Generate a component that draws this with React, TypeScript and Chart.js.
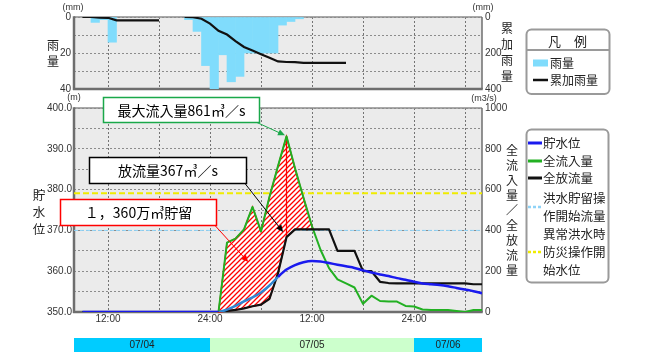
import React, { useEffect, useRef } from 'react';
import { Chart, registerables } from 'chart.js';

Chart.register(...registerables);

const W = 661;
const H = 360;
const FONT_JP = '"Noto Sans CJK JP", "Noto Sans", sans-serif';
const FONT_NUM = '"Liberation Sans", "DejaVu Sans", sans-serif';

// ---------------- data ----------------
// hours counted from 07/04 00:00
const axisStartHour = 8;
const axisEndHour = 56;
const gridHours = [12, 18, 24, 30, 36, 42, 48, 54];
const tickLabels: Record<number, string> = { 12: '12:00', 24: '24:00', 36: '12:00', 48: '24:00' };

const dateLabels = ['07/04', '07/05', '07/06'];
const dateFrom = [8, 24, 48];
const dateTo = [24, 48, 56];

// hourly rainfall (mm), bar covers [hour, hour+1)
const rainHours = [10, 11, 12, 21, 22, 23, 24, 25, 26, 27, 28, 29, 30, 31, 32, 33, 34];
const rainValues = [3, 1.5, 14, 1.5, 8, 27, 40, 21, 36, 33, 20, 20, 20, 20, 4.5, 2.5, 1];

// cumulative rainfall (mm)
const cumHours = [9, 10, 11, 12, 13, 14, 15, 16, 17, 18,
  21, 22, 23, 24, 25, 26, 27, 28, 29, 30, 31, 32, 33, 34, 35, 36, 37, 38, 39, 40];
const cumValues = [0, 0, 3, 4.5, 18.5, 18.5, 18.5, 18.5, 18.5, 18.5,
  0, 1.5, 9.5, 36.5, 76.5, 97.5, 133.5, 166.5, 186.5, 206.5, 226.5, 247, 250, 251, 255, 255, 255, 255, 255, 255];

const hours = [9, 10, 11, 12, 13, 14, 15, 16, 17, 18, 19, 20, 21, 22, 23, 24,
  25, 26, 27, 28, 29, 30, 31, 32, 33, 34, 35, 36, 37, 38, 39, 40,
  41, 42, 43, 44, 45, 46, 47, 48, 49, 50, 51, 52, 53, 54, 55, 56];

// reservoir water level (m)
const storageLevel = [350, 350, 350, 350, 350, 350, 350, 350, 350, 350, 350, 350, 350, 350, 350, 350,
  350, 350.6, 351.5, 352.6, 353.6, 354.8, 356.5, 358.6, 360.4, 361.5, 362.2, 362.5, 362.4, 362.0, 361.6, 361.2,
  360.8, 360.2, 359.7, 359.2, 358.8, 358.3, 357.9, 357.4, 357.0, 356.8, 356.6, 356.3, 355.9, 355.5, 355.1, 354.6];

// total inflow (m3/s)
const inflow = [0, 0, 0, 0, 0, 0, 0, 0, 0, 0, 0, 0, 0, 0, 0, 0,
  0, 340, 360, 405, 515, 395, 565, 715, 861, 705, 560, 420, 305, 215, 160, 140,
  120, 40, 80, 54, 52, 51, 30, 27, 12, 10, 10, 10, 5, 0, 10, 10];

// total outflow (m3/s)
const outflow = [0, 0, 0, 0, 0, 0, 0, 0, 0, 0, 0, 0, 0, 0, 0, 0,
  0, 5, 10, 18, 28, 36, 65, 190, 367, 405, 405, 405, 405, 405, 300, 300,
  300, 200, 200, 148, 142, 140, 140, 140, 140, 140, 140, 140, 140, 140, 136, 136];

const floodStartFlow = 400;   // 洪水貯留操作開始流量
const emergencyLevel = 379.1; // 異常洪水時防災操作開始水位

const peakInflowLabel = '最大流入量861㎥／s';
const outflowLabel = '放流量367㎥／s';
const storageLabel = '１，360万㎥貯留';

// ---------------- styles ----------------
const C_RAIN = '#80dcfc';
const C_BLUE = '#1a1aee';
const C_BLUE_IN = '#2f86d2';
const C_GREEN = '#22b022';
const C_BLACK = '#111111';
const C_LBLUE = '#8fd3f7';
const C_YELLOW = '#f0ec00';
const C_PLOT = '#ebebeb';
const dateColors = ['#00ccff', '#ccffcc', '#00ccff'];

Chart.defaults.font.family = FONT_NUM;
Chart.defaults.font.size = 10;
Chart.defaults.color = '#333';

function line(ctx: any, x1: number, y1: number, x2: number, y2: number) {
  ctx.beginPath();
  ctx.moveTo(x1, y1);
  ctx.lineTo(x2, y2);
  ctx.stroke();
}

function roundRectPath(ctx: any, x: number, y: number, w: number, h: number, r: number) {
  ctx.beginPath();
  ctx.moveTo(x + r, y);
  ctx.lineTo(x + w - r, y);
  ctx.arcTo(x + w, y, x + w, y + r, r);
  ctx.lineTo(x + w, y + h - r);
  ctx.arcTo(x + w, y + h, x + w - r, y + h, r);
  ctx.lineTo(x + r, y + h);
  ctx.arcTo(x, y + h, x, y + h - r, r);
  ctx.lineTo(x, y + r);
  ctx.arcTo(x, y, x + r, y, r);
  ctx.closePath();
}

function vertText(ctx: any, text: string, x: number, y0: number, step: number, font: string) {
  ctx.font = font;
  ctx.textAlign = 'center';
  ctx.textBaseline = 'middle';
  Array.from(text).forEach((ch, i) => ctx.fillText(ch, x, y0 + i * step));
}

function arrow(ctx: any, x1: number, y1: number, x2: number, y2: number, color: string) {
  const head = 7;
  const a = Math.atan2(y2 - y1, x2 - x1);
  ctx.strokeStyle = color;
  ctx.fillStyle = color;
  ctx.lineWidth = 1;
  line(ctx, x1, y1, x2 - Math.cos(a) * head * 0.7, y2 - Math.sin(a) * head * 0.7);
  const bx = x2 - head * Math.cos(a);
  const by = y2 - head * Math.sin(a);
  const ox = head * 0.45 * Math.sin(a);
  const oy = head * 0.45 * Math.cos(a);
  ctx.beginPath();
  ctx.moveTo(x2, y2);
  ctx.lineTo(bx + ox, by - oy);
  ctx.lineTo(bx - ox, by + oy);
  ctx.closePath();
  ctx.fill();
}

function textBox(ctx: any, x: number, y: number, w: number, h: number, border: string, text: string) {
  ctx.fillStyle = '#fff';
  ctx.fillRect(x, y, w, h);
  ctx.strokeStyle = border;
  ctx.lineWidth = 1.5;
  ctx.strokeRect(x, y, w, h);
  ctx.fillStyle = '#000';
  ctx.font = `14px ${FONT_JP}`;
  ctx.textAlign = 'center';
  ctx.textBaseline = 'middle';
  ctx.fillText(text, x + w / 2, y + h / 2 + 0.5);
}

const plotBgPlugin = {
  id: 'plotBg',
  beforeDraw(chart: any) {
    const { ctx, chartArea: a } = chart;
    ctx.save();
    ctx.fillStyle = C_PLOT;
    ctx.fillRect(a.left, a.top, a.right - a.left, a.bottom - a.top);
    ctx.restore();
  },
};

const framePlugin = {
  id: 'frame',
  beforeDatasetsDraw(chart: any) {
    const { ctx, chartArea: a } = chart;
    ctx.save();
    ctx.strokeStyle = '#8c8c8c';
    ctx.lineWidth = 1.5;
    line(ctx, a.left, a.top, a.right, a.top);
    ctx.strokeStyle = '#6e6e6e';
    line(ctx, a.right, a.top, a.right, a.bottom);
    ctx.lineWidth = 2.5;
    line(ctx, a.left, a.top - 0.75, a.left, a.bottom + 1);
    line(ctx, a.left - 1, a.bottom, a.right + 0.75, a.bottom);
    ctx.restore();
  },
};

function makeHatch(ctx: any) {
  const c = document.createElement('canvas');
  c.width = 5;
  c.height = 5;
  const g = c.getContext('2d') as CanvasRenderingContext2D;
  g.fillStyle = '#ffffff';
  g.fillRect(0, 0, 5, 5);
  g.strokeStyle = '#ff0000';
  g.lineWidth = 1.3;
  g.beginPath();
  g.moveTo(-1, 6); g.lineTo(6, -1);
  g.moveTo(-1, 1); g.lineTo(1, -1);
  g.moveTo(4, 6); g.lineTo(6, 4);
  g.stroke();
  return ctx.createPattern(c, 'repeat');
}

// hatched storage area between inflow and outflow
const hatchPlugin = {
  id: 'hatch',
  afterDatasetDraw(chart: any, args: any) {
    if (args.index !== 3) return;
    const { ctx } = chart;
    const xs = chart.scales.x;
    const yQ = chart.scales.yQ;
    const first = inflow.findIndex((v, i) => v > outflow[i]);
    const s = Math.max(0, first - 1);
    const peak = inflow.indexOf(Math.max(...inflow));
    let e = hours.length - 1;
    for (let i = peak; i < hours.length; i++) {
      if (inflow[i] < outflow[i]) { e = i; break; }
    }
    const d0 = inflow[e - 1] - outflow[e - 1];
    const d1 = inflow[e] - outflow[e];
    const t = d0 / (d0 - d1);
    const xc = hours[e - 1] + t * (hours[e] - hours[e - 1]);
    const yc = outflow[e - 1] + t * (outflow[e] - outflow[e - 1]);
    ctx.save();
    ctx.beginPath();
    ctx.moveTo(xs.getPixelForValue(hours[s]), yQ.getPixelForValue(inflow[s]));
    for (let i = s + 1; i < e; i++) ctx.lineTo(xs.getPixelForValue(hours[i]), yQ.getPixelForValue(inflow[i]));
    ctx.lineTo(xs.getPixelForValue(xc), yQ.getPixelForValue(yc));
    for (let i = e - 1; i >= s; i--) ctx.lineTo(xs.getPixelForValue(hours[i]), yQ.getPixelForValue(outflow[i]));
    ctx.closePath();
    ctx.fillStyle = makeHatch(ctx);
    ctx.fill();
    ctx.strokeStyle = '#ff0000';
    ctx.lineWidth = 1.3;
    ctx.stroke();
    const px = xs.getPixelForValue(hours[peak]);
    line(ctx, px, yQ.getPixelForValue(inflow[peak]), px, yQ.getPixelForValue(outflow[peak]));
    ctx.restore();
  },
};

const mainDecorPlugin = {
  id: 'mainDecor',
  afterDraw(chart: any) {
    const { ctx } = chart;
    const xs = chart.scales.x;
    const yQ = chart.scales.yQ;
    ctx.save();
    // units
    ctx.fillStyle = '#333';
    ctx.font = `9px ${FONT_NUM}`;
    ctx.textAlign = 'center';
    ctx.textBaseline = 'middle';
    ctx.fillText('(m)', 74, 98);
    ctx.fillText('(m3/s)', 484, 99);
    // axis titles
    ctx.fillStyle = '#222';
    vertText(ctx, '貯水位', 39, 195, 17, `12.5px ${FONT_JP}`);
    vertText(ctx, '全流入量／全放流量', 512, 150, 15, `12px ${FONT_JP}`);

    // legend
    roundRectPath(ctx, 526.5, 129.5, 82, 153, 5);
    ctx.fillStyle = '#fff';
    ctx.fill();
    ctx.strokeStyle = '#9a9a9a';
    ctx.lineWidth = 2;
    ctx.stroke();
    const lx0 = 528, lx1 = 542, tx = 543;
    const mark = (y: number, color: string, dash: number[], w: number) => {
      ctx.strokeStyle = color;
      ctx.lineWidth = w;
      ctx.setLineDash(dash);
      line(ctx, lx0, y, lx1, y);
      ctx.setLineDash([]);
    };
    mark(143, C_BLUE, [], 3);
    mark(161, C_GREEN, [], 3);
    mark(178, C_BLACK, [], 3);
    mark(207, C_LBLUE, [3, 2], 2.5);
    mark(252, C_YELLOW, [3, 2], 2.5);
    ctx.fillStyle = '#222';
    ctx.font = `12.5px ${FONT_JP}`;
    ctx.textAlign = 'left';
    ctx.textBaseline = 'middle';
    ctx.fillText('貯水位', tx, 143);
    ctx.fillText('全流入量', tx, 161);
    ctx.fillText('全放流量', tx, 178);
    ctx.fillText('洪水貯留操', tx, 198);
    ctx.fillText('作開始流量', tx, 216.5);
    ctx.fillText('異常洪水時', tx, 234);
    ctx.fillText('防災操作開', tx, 252);
    ctx.fillText('始水位', tx, 270);

    // date bar
    ctx.font = `10px ${FONT_NUM}`;
    ctx.textAlign = 'center';
    dateLabels.forEach((lab, i) => {
      const x0 = xs.getPixelForValue(dateFrom[i]);
      const x1 = xs.getPixelForValue(dateTo[i]);
      ctx.fillStyle = dateColors[i];
      ctx.fillRect(x0, 338, x1 - x0, 14);
      ctx.fillStyle = '#222';
      ctx.fillText(lab, (x0 + x1) / 2, 345.5);
    });

    // annotations
    const peak = inflow.indexOf(Math.max(...inflow));
    const px = xs.getPixelForValue(hours[peak]);
    const py = yQ.getPixelForValue(inflow[peak]);
    textBox(ctx, 103.5, 97.5, 156, 25, '#1aa84a', peakInflowLabel);
    arrow(ctx, 257, 122.5, px - 1.5, py - 1, '#1aa84a');
    textBox(ctx, 89.5, 157.5, 157, 26, '#000', outflowLabel);
    arrow(ctx, 245, 183.5, xs.getPixelForValue(32.6), yQ.getPixelForValue(392), '#000');
    textBox(ctx, 60.5, 199.5, 156, 26, '#ff0000', storageLabel);
    arrow(ctx, 215, 225.5, xs.getPixelForValue(28.5), yQ.getPixelForValue(245), '#ff0000');
    ctx.restore();
  },
};

const topDecorPlugin = {
  id: 'topDecor',
  afterDraw(chart: any) {
    const { ctx } = chart;
    ctx.save();
    ctx.fillStyle = '#333';
    ctx.font = `9px ${FONT_NUM}`;
    ctx.textAlign = 'center';
    ctx.textBaseline = 'middle';
    ctx.fillText('(mm)', 73, 8);
    ctx.fillText('(mm)', 483, 8);
    ctx.fillStyle = '#222';
    vertText(ctx, '雨量', 53, 45, 16, `12px ${FONT_JP}`);
    vertText(ctx, '累加雨量', 507, 28, 16.3, `12px ${FONT_JP}`);

    roundRectPath(ctx, 526.5, 29.5, 83, 64.5, 5);
    ctx.fillStyle = '#fff';
    ctx.fill();
    ctx.strokeStyle = '#9a9a9a';
    ctx.lineWidth = 2;
    ctx.stroke();
    line(ctx, 527, 50, 609, 50);
    ctx.fillStyle = '#222';
    ctx.font = `13px ${FONT_JP}`;
    ctx.textAlign = 'center';
    ctx.fillText('凡　例', 567.5, 41);
    ctx.fillStyle = C_RAIN;
    ctx.fillRect(533, 59.5, 15, 7);
    ctx.strokeStyle = C_BLACK;
    ctx.lineWidth = 2.5;
    line(ctx, 533, 80, 548, 80);
    ctx.fillStyle = '#222';
    ctx.font = `12px ${FONT_JP}`;
    ctx.textAlign = 'left';
    ctx.fillText('雨量', 550, 63);
    ctx.fillText('累加雨量', 550, 80);
    ctx.restore();
  },
};

function insideHatch(c: any) {
  const chart = c.chart;
  if (!chart || !chart.scales) return false;
  const yL = chart.scales.yL;
  const yQ = chart.scales.yQ;
  const inside = (i: number) => {
    const b = yL.getPixelForValue(storageLevel[i]);
    return b < yQ.getPixelForValue(outflow[i]) - 0.1 && b > yQ.getPixelForValue(inflow[i]);
  };
  return inside(c.p0DataIndex) || inside(c.p1DataIndex);
}

function gridTicks(scale: any) {
  scale.ticks = gridHours.map((v) => ({ value: v }));
}

function mainConfig(): any {
  const pts = (ys: number[]) => hours.map((h, i) => ({ x: h, y: ys[i] }));
  return {
    type: 'line',
    data: {
      datasets: [
        {
          label: '貯水位', data: pts(storageLevel), yAxisID: 'yL', borderColor: C_BLUE, borderWidth: 2.5,
          pointRadius: 0, cubicInterpolationMode: 'monotone', order: 0, borderJoinStyle: 'round',
          segment: { borderColor: (c: any) => (insideHatch(c) ? C_BLUE_IN : undefined) },
        },
        { label: '全放流量', data: pts(outflow), yAxisID: 'yQ', borderColor: C_BLACK, borderWidth: 2.2, pointRadius: 0, order: 1, borderJoinStyle: 'round' },
        { label: '全流入量', data: pts(inflow), yAxisID: 'yQ', borderColor: C_GREEN, borderWidth: 2, pointRadius: 0, order: 2, borderJoinStyle: 'round' },
        {
          label: '洪水貯留操作開始流量', data: [{ x: axisStartHour, y: floodStartFlow }, { x: axisEndHour, y: floodStartFlow }],
          yAxisID: 'yQ', borderColor: C_LBLUE, borderWidth: 1, borderDash: [4, 2], pointRadius: 0, order: 3,
        },
        {
          label: '異常洪水時防災操作開始水位', data: [{ x: axisStartHour, y: emergencyLevel }, { x: axisEndHour, y: emergencyLevel }],
          yAxisID: 'yL', borderColor: C_YELLOW, borderWidth: 2, borderDash: [6, 3], pointRadius: 0, order: 4,
        },
      ],
    },
    options: {
      responsive: false,
      animation: false,
      events: [],
      layout: { padding: { top: 108, left: 0, right: 0, bottom: 0 } },
      plugins: { legend: { display: false }, tooltip: { enabled: false } },
      scales: {
        x: {
          type: 'linear', min: axisStartHour, max: axisEndHour,
          afterBuildTicks: gridTicks,
          afterFit: (s: any) => { s.height = H - 312; },
          grid: { color: '#737373', lineWidth: 1, drawTicks: false },
          border: { display: false, dash: [2, 2] },
          ticks: { autoSkip: false, maxRotation: 0, padding: 1, color: '#333', callback: (v: any) => tickLabels[v] ?? '' },
        },
        yL: {
          type: 'linear', position: 'left', min: 350, max: 400,
          afterFit: (s: any) => { s.width = 74; },
          grid: { color: '#8c8c8c', lineWidth: 1, drawTicks: false },
          border: { display: false, dash: [2, 2] },
          ticks: { stepSize: 5, autoSkip: false, padding: 2, color: '#333', callback: (v: any) => (v % 10 === 0 ? Number(v).toFixed(1) : '') },
        },
        yQ: {
          type: 'linear', position: 'right', min: 0, max: 1000,
          afterFit: (s: any) => { s.width = W - 482; },
          grid: { display: false, drawTicks: false },
          border: { display: false },
          ticks: { stepSize: 100, autoSkip: false, padding: 3, color: '#333', callback: (v: any) => (v % 200 === 0 ? String(v) : '') },
        },
      },
    },
    plugins: [plotBgPlugin, framePlugin, hatchPlugin, mainDecorPlugin],
  };
}

function topConfig(): any {
  const cumPoints: any[] = [];
  cumHours.forEach((h, i) => {
    if (i > 0 && h - cumHours[i - 1] > 1) cumPoints.push({ x: (h + cumHours[i - 1]) / 2, y: null });
    cumPoints.push({ x: h, y: cumValues[i] });
  });
  return {
    type: 'bar',
    data: {
      datasets: [
        { type: 'line', label: '累加雨量', data: cumPoints, yAxisID: 'yC', borderColor: C_BLACK, borderWidth: 2.2, pointRadius: 0, order: 0, spanGaps: false },
        {
          type: 'bar', label: '雨量', data: rainHours.map((h, i) => ({ x: h + 0.5, y: rainValues[i] })), yAxisID: 'yR',
          backgroundColor: C_RAIN, borderWidth: 0, barPercentage: 1, categoryPercentage: 1, order: 1,
        },
      ],
    },
    options: {
      responsive: false,
      animation: false,
      events: [],
      layout: { padding: { top: 17, left: 0, right: 0, bottom: 0 } },
      plugins: { legend: { display: false }, tooltip: { enabled: false } },
      scales: {
        x: {
          type: 'linear', min: axisStartHour, max: axisEndHour, offset: false, z: 1,
          afterBuildTicks: gridTicks,
          afterFit: (s: any) => { s.height = H - 89; },
          grid: { color: '#737373', lineWidth: 1, drawTicks: false, offset: false },
          border: { display: false, dash: [2, 2] },
          ticks: { display: false },
        },
        yR: {
          type: 'linear', position: 'left', reverse: true, min: 0, max: 40,
          afterFit: (s: any) => { s.width = 74; },
          grid: { color: '#8c8c8c', lineWidth: 1, drawTicks: false },
          border: { display: false, dash: [2, 2] },
          ticks: { stepSize: 10, autoSkip: false, padding: 3, color: '#333', callback: (v: any) => (v % 20 === 0 ? String(v) : '') },
        },
        yC: {
          type: 'linear', position: 'right', reverse: true, min: 0, max: 400,
          afterFit: (s: any) => { s.width = W - 482; },
          grid: { display: false, drawTicks: false },
          border: { display: false },
          ticks: { stepSize: 100, autoSkip: false, padding: 3, color: '#333', callback: (v: any) => (v % 200 === 0 ? String(v) : '') },
        },
      },
    },
    plugins: [plotBgPlugin, framePlugin, topDecorPlugin],
  };
}

export default function App() {
  const topRef = useRef<HTMLCanvasElement>(null);
  const mainRef = useRef<HTMLCanvasElement>(null);
  useEffect(() => {
    const c2 = new Chart(mainRef.current as HTMLCanvasElement, mainConfig());
    const c1 = new Chart(topRef.current as HTMLCanvasElement, topConfig());
    return () => {
      c1.destroy();
      c2.destroy();
    };
  }, []);
  const cs: React.CSSProperties = { position: 'absolute', left: 0, top: 0, width: W, height: H };
  return (
    <div style={{ position: 'fixed', left: 0, top: 0, width: W, height: H, background: '#fff' }}>
      <canvas ref={mainRef} width={W} height={H} style={cs} />
      <canvas ref={topRef} width={W} height={H} style={cs} />
    </div>
  );
}
